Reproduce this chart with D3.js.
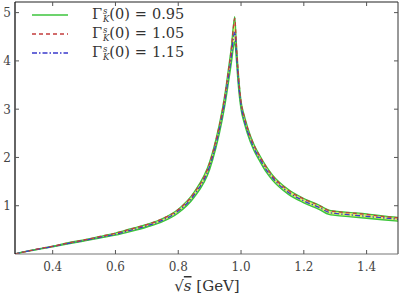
<!DOCTYPE html>
<html><head><meta charset="utf-8">
<script src="https://cdn.jsdelivr.net/npm/d3@7"></script>
<style>body{margin:0;background:#fff}svg{display:block}text{font-family:"DejaVu Serif","Liberation Serif",serif}</style>
</head><body>
<script>
const xs =      [0.28,0.30,0.35,0.40,0.45,0.50,0.55,0.60,0.65,0.70,0.75,0.80,0.85,0.90,0.92,0.94,0.95,0.96,0.97,0.975,0.98,0.985,0.99,1.00,1.01,1.02,1.04,1.06,1.08,1.10,1.15,1.20,1.25,1.28,1.30,1.35,1.40,1.45,1.50];
const green =   [0.00,0.03,0.09,0.15,0.21,0.27,0.33,0.39,0.47,0.56,0.67,0.85,1.17,1.75,2.20,2.78,3.14,3.56,4.00,4.25,4.40,4.05,3.60,3.00,2.72,2.50,2.16,1.92,1.70,1.53,1.24,1.06,0.92,0.82,0.80,0.77,0.74,0.71,0.68];
const red =     [0.00,0.03,0.10,0.16,0.23,0.29,0.36,0.43,0.52,0.61,0.73,0.92,1.26,1.88,2.35,2.95,3.34,3.80,4.30,4.65,4.88,4.35,3.85,3.15,2.85,2.62,2.27,2.02,1.80,1.62,1.32,1.14,1.00,0.90,0.88,0.85,0.82,0.78,0.75];
const blue =    [0.00,0.03,0.095,0.155,0.22,0.28,0.345,0.41,0.495,0.585,0.70,0.89,1.22,1.82,2.28,2.87,3.24,3.68,4.15,4.45,4.60,4.20,3.72,3.08,2.78,2.56,2.21,1.97,1.75,1.58,1.28,1.10,0.96,0.86,0.84,0.81,0.78,0.75,0.72];
const bandHigh =[0.00,0.035,0.10,0.165,0.235,0.295,0.365,0.435,0.525,0.615,0.735,0.93,1.28,1.91,2.38,2.99,3.38,3.85,4.35,4.70,4.92,4.40,3.90,3.18,2.88,2.65,2.29,2.04,1.82,1.64,1.34,1.15,1.01,0.91,0.89,0.86,0.83,0.79,0.76];
const xTicks = [0.4,0.6,0.8,1.0,1.2,1.4];
const yTicks = [1,2,3,4,5];
const legendLabels = ["0.95","1.05","1.15"];

const W=399,H=297;
const L=15,R=398,T=2,B=254;
const svg=d3.select("body").append("svg").attr("width",W).attr("height",H);
const x=d3.scaleLinear().domain([0.28,1.5]).range([L,R]);
const y=d3.scaleLinear().domain([0,5.22]).range([B,T]);

svg.append("clipPath").attr("id","c").append("rect").attr("x",L).attr("y",T).attr("width",R-L).attr("height",B-T);
const g=svg.append("g").attr("clip-path","url(#c)");

const pts=(arr)=>xs.map((v,i)=>[v,arr[i]]);
const line=d3.line().x(d=>x(d[0])).y(d=>y(d[1])).curve(d3.curveMonotoneX);
const area=d3.area().x((d,i)=>x(xs[i])).y0((d,i)=>y(green[i])).y1((d,i)=>y(bandHigh[i])).curve(d3.curveMonotoneX);

g.append("path").datum(xs).attr("d",area).attr("fill","#d6f56e").attr("stroke","none");
g.append("path").datum(pts(bandHigh)).attr("d",line).attr("fill","none").attr("stroke","#3cc43c").attr("stroke-width",1.2);
g.append("path").datum(pts(green)).attr("d",line).attr("fill","none").attr("stroke","#3cc43c").attr("stroke-width",1.4);
g.append("path").datum(pts(blue)).attr("d",line).attr("fill","none").attr("stroke","#3a3acc").attr("stroke-width",1.3).attr("stroke-dasharray","5,2,1.5,2");
g.append("path").datum(pts(red)).attr("d",line).attr("fill","none").attr("stroke","#c43c3c").attr("stroke-width",1.3).attr("stroke-dasharray","4,3");

// frame
svg.append("line").attr("x1",L).attr("x2",R).attr("y1",T).attr("y2",T).attr("stroke","#222").attr("stroke-width",1.2);
svg.append("line").attr("x1",R).attr("x2",R).attr("y1",T).attr("y2",B).attr("stroke","#333").attr("stroke-width",1);
svg.append("line").attr("x1",L).attr("x2",R).attr("y1",B).attr("y2",B).attr("stroke","#777").attr("stroke-width",1.2);
svg.append("line").attr("x1",L).attr("x2",L).attr("y1",T).attr("y2",B).attr("stroke","#111").attr("stroke-width",1.3);

// x ticks
xTicks.forEach(t=>{
  svg.append("line").attr("x1",x(t)).attr("x2",x(t)).attr("y1",B).attr("y2",B-4).attr("stroke","#555");
  svg.append("line").attr("x1",x(t)).attr("x2",x(t)).attr("y1",T).attr("y2",T+4).attr("stroke","#555");
  svg.append("text").attr("x",x(t)).attr("y",B+17).attr("text-anchor","middle").attr("font-size",12).attr("fill","#444").text(t.toFixed(1));
});
yTicks.forEach(t=>{
  svg.append("line").attr("x1",L).attr("x2",L+4).attr("y1",y(t)).attr("y2",y(t)).attr("stroke","#555");
  svg.append("line").attr("x1",R).attr("x2",R-4).attr("y1",y(t)).attr("y2",y(t)).attr("stroke","#555");
  svg.append("text").attr("x",L-4).attr("y",y(t)+4.5).attr("text-anchor","end").attr("font-size",12).attr("fill","#444").text(t);
});
// x label
const xl=svg.append("text").attr("x",207).attr("y",291).attr("text-anchor","middle").attr("font-size",15).attr("fill","#333");
xl.append("tspan").text("√");
xl.append("tspan").attr("font-style","italic").attr("text-decoration","overline").text("s");
xl.append("tspan").text(" [GeV]");

// legend
const legY=[15,34,53];
const legStyles=[{c:"#3cc43c",d:null},{c:"#c43c3c",d:"4,3"},{c:"#3a3acc",d:"5,2,1.5,2"}];
legY.forEach((ly,i)=>{
  svg.append("line").attr("x1",32).attr("x2",68).attr("y1",ly).attr("y2",ly).attr("stroke",legStyles[i].c).attr("stroke-width",1.4).attr("stroke-dasharray",legStyles[i].d);
  const t=svg.append("text").attr("x",92).attr("y",ly+4).attr("font-size",14.5).attr("fill","#333");
  t.append("tspan").text("Γ");
  t.append("tspan").attr("font-size",8.5).attr("font-style","italic").attr("dx",1).attr("dy",-5.5).text("s");
  t.append("tspan").attr("font-size",8.5).attr("font-style","italic").attr("dx",-4.5).attr("dy",8.5).text("K");
  t.append("tspan").attr("dy",-3).text("(0)");
  t.append("tspan").attr("dx",5).text("=");
  t.append("tspan").attr("dx",5).text(legendLabels[i]);
});
</script>
</body></html>
